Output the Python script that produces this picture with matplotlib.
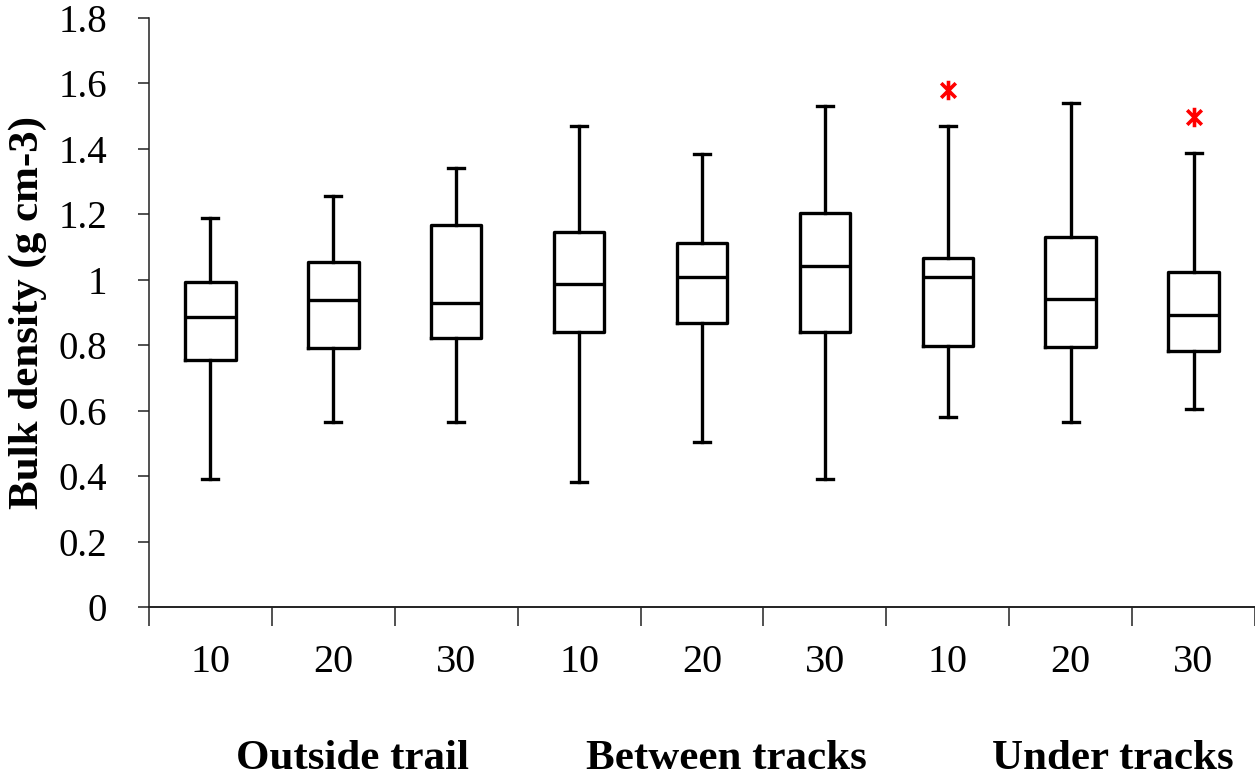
import matplotlib
matplotlib.use("Agg")
import matplotlib.pyplot as plt
from matplotlib.path import Path
from matplotlib.ticker import FixedLocator, NullFormatter

# Bulk density summary statistics per trail position and depth (cm)
depth_labels = ["10", "20", "30", "10", "20", "30", "10", "20", "30"]
group_labels = ["Outside trail", "Between tracks", "Under tracks"]

whisker_low = [0.392, 0.566, 0.566, 0.382, 0.503, 0.392, 0.582, 0.566, 0.604]
q1 = [0.755, 0.793, 0.823, 0.840, 0.867, 0.840, 0.798, 0.794, 0.782]
median = [0.887, 0.938, 0.930, 0.988, 1.009, 1.041, 1.009, 0.940, 0.892]
q3 = [0.994, 1.055, 1.166, 1.146, 1.113, 1.205, 1.068, 1.130, 1.024]
whisker_high = [1.188, 1.256, 1.341, 1.471, 1.383, 1.530, 1.471, 1.540, 1.388]
outliers = [[], [], [], [], [], [], [1.581], [], [1.497]]

plt.rcParams["font.family"] = ["Liberation Serif", "DejaVu Serif"]

# asterisk-style outlier symbol: a vertical stroke crossed by an X
star_path = Path(
    [(0, -1), (0, 1), (-0.75, -0.75), (0.75, 0.75), (-0.75, 0.75), (0.75, -0.75)],
    [Path.MOVETO, Path.LINETO, Path.MOVETO, Path.LINETO, Path.MOVETO, Path.LINETO],
)

fig = plt.figure(figsize=(12.55, 7.79), dpi=100)
ax = fig.add_axes([149 / 1255, 1 - 607 / 779, 1 - 149 / 1255, (607 - 18) / 779])

stats = []
for i in range(len(depth_labels)):
    stats.append(dict(med=median[i], q1=q1[i], q3=q3[i],
                      whislo=whisker_low[i], whishi=whisker_high[i],
                      fliers=outliers[i]))

positions = list(range(len(depth_labels)))
lw = 2.4
ax.bxp(stats, positions=positions, widths=0.41, capwidths=0.13,
       boxprops=dict(color="black", linewidth=lw),
       medianprops=dict(color="black", linewidth=lw),
       whiskerprops=dict(color="black", linewidth=lw),
       capprops=dict(color="black", linewidth=lw),
       flierprops=dict(marker=star_path, markersize=14, markeredgewidth=2.6,
                       markeredgecolor="red", markerfacecolor="none",
                       linestyle="none"),
       manage_ticks=False)

ax.set_xlim(-0.5, len(depth_labels) - 0.5)
ax.set_ylim(0, 1.8)
ax.set_yticks([0, 0.2, 0.4, 0.6, 0.8, 1.0, 1.2, 1.4, 1.6, 1.8])
ax.set_yticklabels(["0", "0.2", "0.4", "0.6", "0.8", "1", "1.2", "1.4", "1.6", "1.8"],
                   fontsize=28)

# category boundaries carry the tick marks, centres carry the depth labels
ax.xaxis.set_major_locator(FixedLocator([p - 0.5 for p in positions] + [len(positions) - 0.5]))
ax.xaxis.set_major_formatter(NullFormatter())
ax.xaxis.set_minor_locator(FixedLocator(positions))
ax.set_xticklabels(depth_labels, minor=True, fontsize=29)
ax.tick_params(axis="x", which="major", direction="out", length=14, width=1.1, color="#222222")
ax.tick_params(axis="x", which="minor", length=0, pad=27)
ax.tick_params(axis="y", direction="out", length=8, width=1.1, color="#222222", pad=22)

for side in ("top", "right"):
    ax.spines[side].set_visible(False)
ax.spines["left"].set_linewidth(1.1)
ax.spines["bottom"].set_linewidth(1.4)
ax.spines["left"].set_color("#222222")
ax.spines["bottom"].set_color("#222222")

ax.set_ylabel("Bulk density (g cm-3)", fontsize=31, fontweight="bold")
ax.yaxis.set_label_coords((47 - 149) / (1255 - 149), 0.5)

# group names beneath the depth labels
group_x = [353 / 1255, 726 / 1255, 1113 / 1255]
for gx, name in zip(group_x, group_labels):
    fig.text(gx, 1 - 769 / 779, name, ha="center", va="baseline",
             fontsize=31, fontweight="bold")

fig.savefig("out.png", dpi=100)
